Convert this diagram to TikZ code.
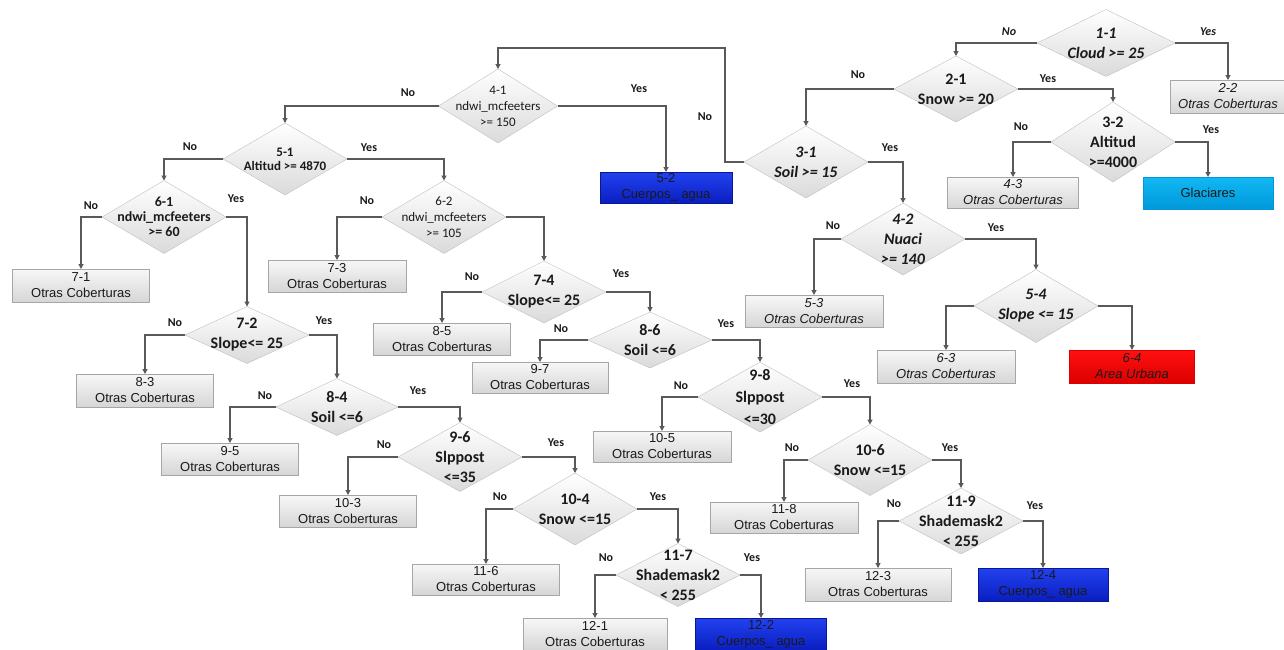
\documentclass[tikz,border=0pt]{standalone}
\usepackage{fontspec}
\setmainfont{Carlito}
\newfontfamily\arialf{Liberation Sans}
\usetikzlibrary{arrows.meta,shapes.geometric}
\definecolor{linegray}{HTML}{595959}
\definecolor{decline}{HTML}{BFBFBF}
\definecolor{decfill}{HTML}{DADADA}
\definecolor{boxline}{HTML}{A6A6A6}
\definecolor{boxtop}{HTML}{F7F7F7}
\definecolor{boxbot}{HTML}{D6D6D6}
\definecolor{watertop}{HTML}{2242F0}
\definecolor{waterbot}{HTML}{0A1EC0}
\definecolor{waterline}{HTML}{0A1890}
\definecolor{urbtop}{HTML}{FF1010}
\definecolor{urbbot}{HTML}{DD0000}
\definecolor{icetop}{HTML}{10B8F4}
\definecolor{icebot}{HTML}{0098D8}
\definecolor{txt}{HTML}{1A1A1A}

\begin{document}
\begin{tikzpicture}[x=1pt,y=-1pt,
dec/.style={diamond,draw=decline,top color=white,bottom color=decfill,minimum width=124,minimum height=72,inner sep=0,outer sep=0},
q/.style={align=center,inner sep=0,text=txt,font=\fontsize{16}{20}\selectfont\bfseries},
qi/.style={q,font=\fontsize{16}{20}\selectfont\bfseries\itshape},
qs/.style={q,font=\fontsize{13}{16}\selectfont},
leaf/.style={draw=boxline,top color=boxtop,bottom color=boxbot,align=center,minimum height=32,inner sep=0,outer sep=0,text=txt,font=\arialf\fontsize{13}{16}\selectfont},
leafi/.style={leaf,font=\arialf\fontsize{13}{16}\selectfont\itshape},
water/.style={leaf,draw=waterline,top color=watertop,bottom color=waterbot},
yn/.style={inner sep=0,text=txt,font=\fontsize{12}{12}\selectfont\bfseries},
arr/.style={-{Triangle[length=5pt,width=5pt]},line width=1.1pt,draw=linegray}]
\useasboundingbox (0,0) rectangle (1284,649);
% right part of the tree
\node[dec,minimum width=138,minimum height=67](d11) at (1106,43){};
\node[qi](t11) at (d11){1-1\\Cloud >= 25};
\node[dec,minimum height=66](d21) at (956,89){};
\node[q](t21) at (d21){2-1\\Snow >= 20};
\node[leafi,minimum width=115,minimum height=33](b22) at (1228,96.5){2-2\\Otras Coberturas};
\node[dec,minimum height=80](d32) at (1113,142){};
\node[q](t32) at (d32){3-2\\Altitud\\>=4000};
\node[leafi,minimum width=131,minimum height=31](b43) at (1013,192.5){4-3\\Otras Coberturas};
\node[leaf,minimum width=130,top color=icetop,bottom color=icebot,draw=icebot](bgl) at (1208,193){Glaciares};
\node[dec](d31) at (806,162){};
\node[qi](t31) at (d31){3-1\\Soil >= 15};
\node[dec](d42) at (903,239){};
\node[qi](t42) at (d42){4-2\\Nuaci\\>= 140};
\node[leafi,minimum width=138](b53) at (814,311){5-3\\Otras Coberturas};
\node[dec,minimum height=73](d54) at (1036,306){};
\node[qi](t54) at (d54){5-4\\Slope <= 15};
\node[leafi,minimum width=138,minimum height=33](b63) at (946,366.5){6-3\\Otras Coberturas};
\node[leafi,minimum width=125,minimum height=33,top color=urbtop,bottom color=urbbot,draw=urbbot](b64) at (1132,366.5){6-4\\Area Urbana};
% middle and left part
\coordinate(k31) at (725,48);
\node[dec,minimum width=119,minimum height=74](d41) at (498,106){};
\node[qs](t41) at (d41){4-1\\ndwi\_mcfeeters\\>= 150};
\node[water,minimum width=132,minimum height=31](b52) at (666,187.5){5-2\\Cuerpos\_ agua};
\node[dec](d51) at (285,159){};
\node[qs,font=\fontsize{13}{14}\selectfont\bfseries](t51) at (d51){5-1\\Altitud >= 4870};
\node[dec,minimum height=73](d61) at (164,217){};
\node[qs,font=\fontsize{14}{15}\selectfont\bfseries](t61) at (d61){6-1\\ndwi\_mcfeeters\\>= 60};
\node[leaf,minimum width=137,minimum height=33](b71) at (81,285.5){7-1\\Otras Coberturas};
\node[dec,minimum height=73](d62) at (444,217){};
\node[qs](t62) at (d62){6-2\\ndwi\_mcfeeters\\>= 105};
\node[leaf,minimum width=138](b73) at (337,276){7-3\\Otras Coberturas};
\node[dec,minimum height=62](d74) at (544,292){};
\node[q](t74) at (d74){7-4\\Slope<= 25};
\node[leaf,minimum width=137](b85) at (442,339){8-5\\Otras Coberturas};
\node[dec,minimum height=56](d86) at (650,340){};
\node[q](t86) at (d86){8-6\\Soil <=6};
\node[leaf,minimum width=136,minimum height=31](b97) at (540,377.5){9-7\\Otras Coberturas};
\node[dec,minimum height=70](d98) at (760,397){};
\node[q,font=\fontsize{16}{22}\selectfont\bfseries](t98) at (d98){9-8\\Slppost\\<=30};
\node[leaf,minimum width=138,minimum height=31](b105) at (662,446.5){10-5\\Otras Coberturas};
\node[dec,minimum height=71](d106) at (870,460){};
\node[q](t106) at (d106){10-6\\Snow <=15};
\node[leaf,minimum width=148,minimum height=31](b118) at (784,517.5){11-8\\Otras Coberturas};
\node[dec,minimum height=66](d119) at (961,521){};
\node[q](t119) at (d119){11-9\\Shademask2\\< 255};
\node[leaf,minimum width=146,minimum height=33](b123) at (878,584.5){12-3\\Otras Coberturas};
\node[water,minimum width=130,minimum height=33](b124) at (1043,584.5){12-4\\Cuerpos\_ agua};
\node[dec,minimum height=57](d72) at (247,335){};
\node[q](t72) at (d72){7-2\\Slope<= 25};
\node[leaf,minimum width=137,minimum height=33](b83) at (145,390.5){8-3\\Otras Coberturas};
\node[dec,minimum width=122,minimum height=57](d84) at (337,407){};
\node[q](t84) at (d84){8-4\\Soil <=6};
\node[leaf,minimum width=137](b95) at (230,459){9-5\\Otras Coberturas};
\node[dec,minimum height=69](d96) at (460,457){};
\node[q](t96) at (d96){9-6\\Slppost\\<=35};
\node[leaf,minimum width=137](b103) at (348,511){10-3\\Otras Coberturas};
\node[dec](d104) at (575,509){};
\node[q](t104) at (d104){10-4\\Snow <=15};
\node[leaf,minimum width=147,minimum height=31](b116) at (486,579.5){11-6\\Otras Coberturas};
\node[dec,minimum height=63](d117) at (678,575){};
\node[q](t117) at (d117){11-7\\Shademask2\\< 255};
\node[leaf,minimum width=144](b121) at (595,634){12-1\\Otras Coberturas};
\node[water,minimum width=131](b122) at (761,634){12-2\\Cuerpos\_ agua};
% connectors
\draw[arr](d11.west)-|(d21.north);\draw[arr](d11.east)-|(b22.north);
\draw[arr](d21.west)-|(d31.north);\draw[arr](d21.east)-|(d32.north);
\draw[arr](d32.west)-|(b43.north);\draw[arr](d32.east)-|(bgl.north);
\draw[arr](d31.west)-|(k31)-|(d41.north);\draw[arr](d31.east)-|(d42.north);
\draw[arr](d42.west)-|(b53.north);\draw[arr](d42.east)-|(d54.north);
\draw[arr](d54.west)-|(b63.north);\draw[arr](d54.east)-|(b64.north);
\draw[arr](d41.west)-|(d51.north);\draw[arr](d41.east)-|(b52.north);
\draw[arr](d51.west)-|(d61.north);\draw[arr](d51.east)-|(d62.north);
\draw[arr](d61.west)-|(b71.north);\draw[arr](d61.east)-|(d72.north);
\draw[arr](d62.west)-|(b73.north);\draw[arr](d62.east)-|(d74.north);
\draw[arr](d74.west)-|(b85.north);\draw[arr](d74.east)-|(d86.north);
\draw[arr](d86.west)-|(b97.north);\draw[arr](d86.east)-|(d98.north);
\draw[arr](d98.west)-|(b105.north);\draw[arr](d98.east)-|(d106.north);
\draw[arr](d106.west)-|(b118.north);\draw[arr](d106.east)-|(d119.north);
\draw[arr](d119.west)-|(b123.north);\draw[arr](d119.east)-|(b124.north);
\draw[arr](d72.west)-|(b83.north);\draw[arr](d72.east)-|(d84.north);
\draw[arr](d84.west)-|(b95.north);\draw[arr](d84.east)-|(d96.north);
\draw[arr](d96.west)-|(b103.north);\draw[arr](d96.east)-|(d104.north);
\draw[arr](d104.west)-|(b116.north);\draw[arr](d104.east)-|(d117.north);
\draw[arr](d117.west)-|(b121.north);\draw[arr](d117.east)-|(b122.north);
% yes / no
\node[yn,font=\fontsize{12}{12}\selectfont\bfseries\itshape](n11) at (1009,32){No};
\node[yn,font=\fontsize{12}{12}\selectfont\bfseries\itshape](y11) at (1208,32){Yes};
\node[yn](n21) at (858,75){No};\node[yn](y21) at (1048,79){Yes};
\node[yn](n32) at (1021,127){No};\node[yn](y32) at (1211,130){Yes};
\node[yn](n31) at (705,117){No};\node[yn](y31) at (890,148){Yes};
\node[yn](n42) at (833,226){No};\node[yn](y42) at (996,228){Yes};
\node[yn](n41) at (408,93){No};\node[yn](y41) at (639,89){Yes};
\node[yn](n51) at (190,147){No};\node[yn](y51) at (369,148){Yes};
\node[yn](n61) at (91,206){No};\node[yn](y61) at (236,199){Yes};
\node[yn](n62) at (367,201){No};
\node[yn](n74) at (472,277){No};\node[yn](y74) at (621,274){Yes};
\node[yn](n86) at (561,329){No};\node[yn](y86) at (726,324){Yes};
\node[yn](n98) at (681,386){No};\node[yn](y98) at (852,384){Yes};
\node[yn](n106) at (792,448){No};\node[yn](y106) at (950,448){Yes};
\node[yn](n119) at (894,504){No};\node[yn](y119) at (1035,506){Yes};
\node[yn](n72) at (175,323){No};\node[yn](y72) at (324,321){Yes};
\node[yn](n84) at (265,396){No};\node[yn](y84) at (418,391){Yes};
\node[yn](n96) at (384,445){No};\node[yn](y96) at (556,443){Yes};
\node[yn](n104) at (500,497){No};\node[yn](y104) at (658,497){Yes};
\node[yn](n117) at (606,558){No};\node[yn](y117) at (752,558){Yes};
\end{tikzpicture}
\end{document}
